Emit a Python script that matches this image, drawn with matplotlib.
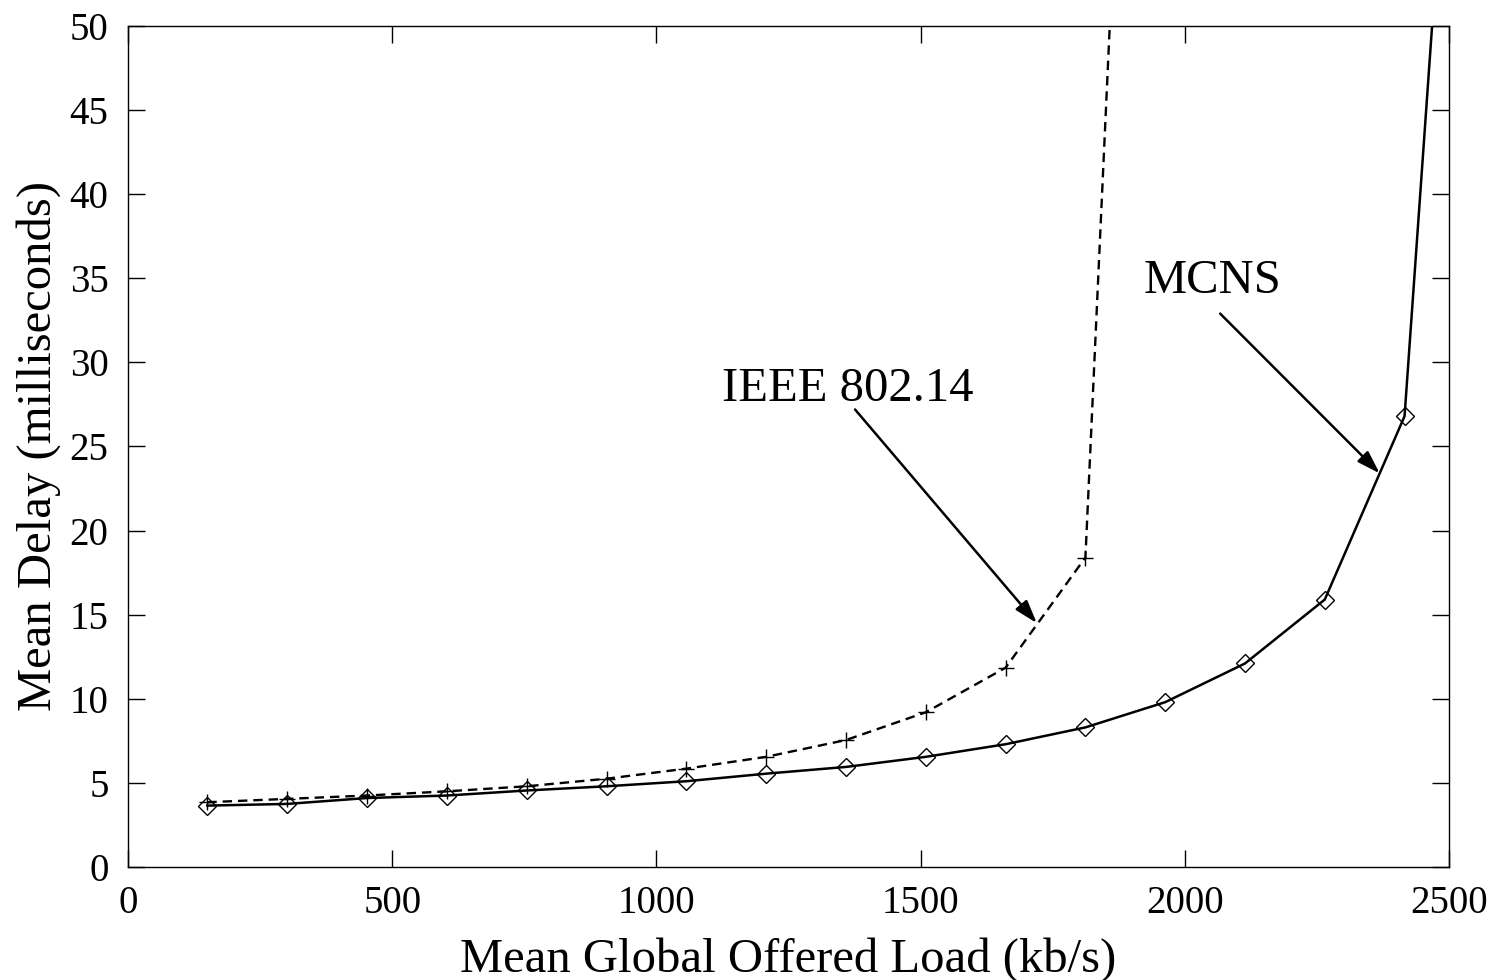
import matplotlib
matplotlib.use("Agg")
import matplotlib.pyplot as plt

# offered load (kb/s) at each simulation point
load = [150, 301, 452, 604, 755, 906, 1057, 1208, 1359, 1510, 1661, 1812,
        1963, 2114, 2265, 2416, 2567]

# mean delay (ms)
ieee_delay = [3.85, 4.05, 4.25, 4.5, 4.8, 5.25, 5.85, 6.55, 7.55, 9.2, 11.85,
              18.4, 122.0]
mcns_delay = [3.65, 3.75, 4.1, 4.25, 4.55, 4.8, 5.1, 5.55, 5.95, 6.55, 7.3,
              8.3, 9.8, 12.1, 15.9, 26.8, 94.0]

plt.rcParams["font.family"] = "serif"
plt.rcParams["font.serif"] = ["Liberation Serif", "DejaVu Serif"]

fig = plt.figure(figsize=(14.99, 9.80), dpi=100)
ax = fig.add_axes([0.0854, 0.1153, 0.8812, 0.8582])

ax.plot(load[:len(ieee_delay)], ieee_delay, color="k", lw=1.7,
        dashes=(4, 2.5), marker="+", ms=11, mew=1.0, clip_on=True)
ax.plot(load, mcns_delay, color="k", lw=1.8, marker="D", ms=9,
        mfc="none", mew=1.0, clip_on=True)

ax.set_xlim(0, 2500)
ax.set_ylim(0, 50)
ax.set_xticks(range(0, 2501, 500))
ax.set_yticks(range(0, 51, 5))
ax.tick_params(direction="in", length=12, width=1, labelsize=28,
               top=True, right=True)
ax.tick_params(axis="x", pad=13)
ax.tick_params(axis="y", pad=14)
for s in ax.spines.values():
    s.set_linewidth(1.0)

ax.set_xlabel("Mean Global Offered Load (kb/s)", fontsize=35, labelpad=11)
ax.set_ylabel("Mean Delay (milliseconds)", fontsize=35, labelpad=6)

arrow = dict(arrowstyle="-|>,head_length=1.4,head_width=0.45", color="k",
             lw=1.8, shrinkA=0, shrinkB=0)
ax.text(1363, 28.4, "IEEE 802.14", fontsize=35, ha="center", va="center")
ax.annotate("", xy=(1720, 14.5), xytext=(1376, 27.2), arrowprops=arrow)
ax.text(2053, 34.85, "MCNS", fontsize=35, ha="center", va="center")
ax.annotate("", xy=(2369, 23.4), xytext=(2067, 32.9), arrowprops=arrow)

fig.savefig("out.png", dpi=100)
